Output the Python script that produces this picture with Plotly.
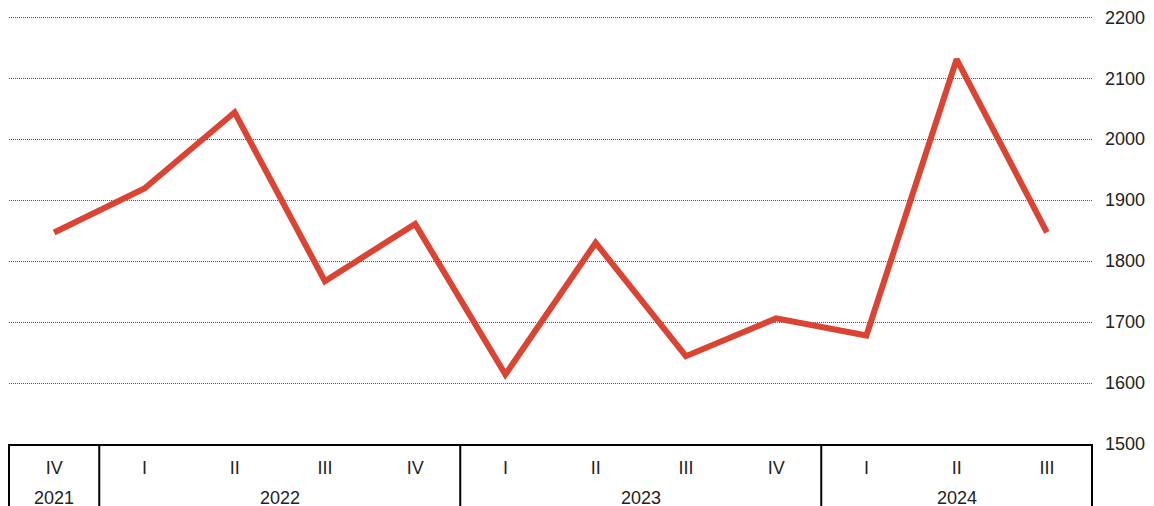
import plotly.graph_objects as go

quarters = ["IV", "I", "II", "III", "IV", "I", "II", "III", "IV", "I", "II", "III"]
years = ["2021", "2022", "2022", "2022", "2022", "2023", "2023", "2023", "2023",
         "2024", "2024", "2024"]
values = [1847, 1919, 2044, 1767, 1861, 1614, 1830, 1644, 1706, 1678, 2131, 1847]

y_ticks = [1500, 1600, 1700, 1800, 1900, 2000, 2100, 2200]

FONT = "Liberation Sans, Arial, sans-serif"
RED = "#DB4332"

idx = list(range(len(values)))

fig = go.Figure()
fig.add_trace(go.Scatter(
    x=idx, y=values, mode="lines",
    line=dict(color=RED, width=6),
    hoverinfo="skip", showlegend=False,
))

# year groups: boundaries and centres
groups = []
start = 0
for i in range(1, len(years) + 1):
    if i == len(years) or years[i] != years[start]:
        groups.append((years[start], start, i - 1))
        start = i

shapes = []
annotations = []
for k, (yr, a, b) in enumerate(groups):
    annotations.append(dict(
        x=(a + b) / 2, y=0, xref="x", yref="paper",
        text=yr, showarrow=False, yshift=-54, yanchor="middle",
        font=dict(family=FONT, size=18, color="#222"),
    ))
    if k > 0:
        shapes.append(dict(
            type="line", xref="x", yref="paper",
            x0=a - 0.5, x1=a - 0.5, y0=0, y1=-0.3,
            line=dict(color="black", width=2),
        ))
for xp in (0, 1):
    shapes.append(dict(
        type="line", xref="paper", yref="paper",
        x0=xp, x1=xp, y0=0, y1=-0.3,
        line=dict(color="black", width=2),
    ))

# page body has an 8px margin, so the figure is sized to fit the window
fig.update_layout(
    width=1146, height=498,
    margin=dict(l=1, r=62, t=8, b=62),
    plot_bgcolor="white", paper_bgcolor="white",
    font=dict(family=FONT, size=18, color="#222"),
    shapes=shapes, annotations=annotations,
    xaxis=dict(
        range=[-0.5, len(values) - 0.5],
        tickvals=idx, ticktext=quarters,
        showgrid=False, zeroline=False,
        showline=True, linecolor="black", linewidth=2,
        ticks="", ticklabelstandoff=6,
        tickfont=dict(family=FONT, size=18, color="#222"),
    ),
    yaxis=dict(
        side="right", range=[1500, 2202],
        tickvals=y_ticks,
        showgrid=True, gridcolor="#555", gridwidth=1, griddash="1px,1px",
        zeroline=False, showline=False, ticks="",
        ticklabelstandoff=12, ticklabeloverflow="allow",
        tickfont=dict(family=FONT, size=18, color="#222"),
    ),
)

fig.write_html("out.html")
